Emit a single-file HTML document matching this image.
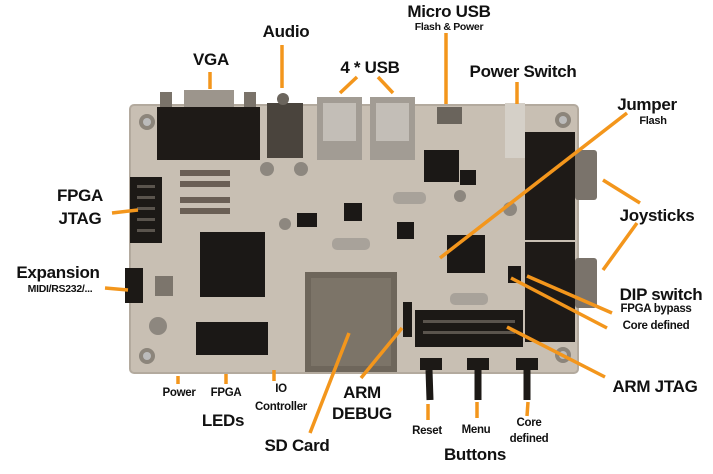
<!DOCTYPE html>
<html><head><meta charset="utf-8"><style>
body{margin:0;width:713px;height:474px;background:#fff;position:relative;overflow:hidden;font-family:"Liberation Sans",sans-serif}
.t{position:absolute;font-weight:bold;color:#111;transform:translateX(-50%);white-space:nowrap;letter-spacing:-0.3px}
.b{font-size:17px}.s{font-size:11.5px}
svg{position:absolute;left:0;top:0}
</style></head><body>
<svg width="713" height="474">
<rect x="130" y="105" width="448" height="268" rx="4" fill="#c8bfb3"/>
<rect x="130" y="105" width="448" height="268" rx="4" fill="none" stroke="#b3aa9e" stroke-width="2"/>
<circle cx="147" cy="122" r="8" fill="#8c857b"/><circle cx="147" cy="122" r="4" fill="#bbb"/>
<circle cx="563" cy="120" r="8" fill="#8c857b"/><circle cx="563" cy="120" r="4" fill="#bbb"/>
<circle cx="147" cy="356" r="8" fill="#8c857b"/><circle cx="147" cy="356" r="4" fill="#bbb"/>
<circle cx="563" cy="355" r="8" fill="#8c857b"/><circle cx="563" cy="355" r="4" fill="#bbb"/>
<rect x="184" y="90" width="50" height="22" fill="#9c958c"/>
<rect x="160" y="92" width="12" height="18" fill="#7a736a"/><rect x="244" y="92" width="12" height="18" fill="#7a736a"/>
<rect x="157" y="107" width="103" height="53" fill="#1e1a17"/>
<rect x="267" y="103" width="36" height="55" fill="#4a443d"/>
<circle cx="283" cy="99" r="6" fill="#6b655d"/>
<rect x="317" y="97" width="45" height="63" fill="#a29c94"/><rect x="370" y="97" width="45" height="63" fill="#a29c94"/>
<rect x="323" y="103" width="33" height="38" fill="#c3beb7"/><rect x="376" y="103" width="33" height="38" fill="#c3beb7"/>
<rect x="437" y="107" width="25" height="17" fill="#6a645c"/>
<rect x="505" y="103" width="20" height="55" fill="#d5d0c8"/>
<rect x="424" y="150" width="35" height="32" fill="#1b1816"/>
<rect x="460" y="170" width="16" height="15" fill="#1b1816"/>
<rect x="344" y="203" width="18" height="18" fill="#1b1816"/>
<rect x="397" y="222" width="17" height="17" fill="#1b1816"/>
<rect x="297" y="213" width="20" height="14" fill="#1b1816"/>
<rect x="393" y="192" width="33" height="12" rx="5" fill="#a8a29a"/>
<rect x="332" y="238" width="38" height="12" rx="5" fill="#a8a29a"/>
<rect x="450" y="293" width="38" height="12" rx="5" fill="#a8a29a"/>
<circle cx="267" cy="169" r="7" fill="#8d877f"/><circle cx="301" cy="169" r="7" fill="#8d877f"/>
<circle cx="285" cy="224" r="6" fill="#8d877f"/><circle cx="510" cy="209" r="7" fill="#8d877f"/>
<circle cx="460" cy="196" r="6" fill="#8d877f"/><circle cx="158" cy="326" r="9" fill="#8d877f"/>
<g fill="#6a5f55"><rect x="180" y="170" width="50" height="6"/><rect x="180" y="181" width="50" height="6"/><rect x="180" y="197" width="50" height="6"/><rect x="180" y="208" width="50" height="6"/></g>
<rect x="130" y="177" width="32" height="66" fill="#1c1916"/>
<g fill="#5a544d"><rect x="137" y="185" width="18" height="3"/><rect x="137" y="196" width="18" height="3"/><rect x="137" y="207" width="18" height="3"/><rect x="137" y="218" width="18" height="3"/><rect x="137" y="229" width="18" height="3"/></g>
<rect x="125" y="268" width="18" height="35" fill="#1c1916"/>
<rect x="155" y="276" width="18" height="20" fill="#7c756c"/>
<rect x="200" y="232" width="65" height="65" fill="#1b1816"/>
<rect x="196" y="322" width="72" height="33" fill="#1b1816"/>
<rect x="305" y="272" width="92" height="100" fill="#6e665b"/>
<rect x="311" y="278" width="80" height="88" fill="#7c7468"/>
<rect x="403" y="302" width="9" height="35" fill="#1c1916"/>
<rect x="447" y="235" width="38" height="38" fill="#1b1816"/>
<rect x="508" y="266" width="13" height="17" fill="#1b1816"/>
<rect x="415" y="310" width="108" height="37" fill="#1c1916"/>
<g fill="#5a544d"><rect x="423" y="320" width="92" height="3"/><rect x="423" y="331" width="92" height="3"/></g>
<rect x="525" y="132" width="50" height="108" fill="#1e1a17"/>
<rect x="525" y="242" width="50" height="100" fill="#1e1a17"/>
<rect x="575" y="150" width="22" height="50" rx="3" fill="#7a736b"/>
<rect x="575" y="258" width="22" height="50" rx="3" fill="#7a736b"/>
<g fill="#1c1916"><rect x="420" y="358" width="22" height="12"/><rect x="467" y="358" width="22" height="12"/><rect x="516" y="358" width="22" height="12"/></g>
<g stroke="#1c1916" stroke-width="7"><line x1="429" y1="370" x2="430" y2="400"/><line x1="478" y1="370" x2="478" y2="400"/><line x1="527" y1="370" x2="527" y2="400"/></g>
<g stroke="#f3961c" stroke-width="3.5" fill="none">
<line x1="210" y1="72" x2="210" y2="89"/>
<line x1="282" y1="45" x2="282" y2="88"/>
<line x1="357" y1="77" x2="340" y2="93"/>
<line x1="378" y1="77" x2="393" y2="93"/>
<line x1="446" y1="33" x2="446" y2="104"/>
<line x1="517" y1="82" x2="517" y2="104"/>
<line x1="627" y1="113" x2="440" y2="258"/>
<line x1="112" y1="213" x2="138" y2="210"/>
<line x1="105" y1="288" x2="128" y2="290"/>
<line x1="640" y1="203" x2="603" y2="180"/>
<line x1="637" y1="223" x2="603" y2="270"/>
<line x1="527" y1="276" x2="612" y2="313"/>
<line x1="511" y1="278" x2="607" y2="328"/>
<line x1="507" y1="327" x2="605" y2="377"/>
<line x1="402" y1="328" x2="361" y2="378"/>
<line x1="349" y1="333" x2="310" y2="433"/>
<line x1="178" y1="376" x2="178" y2="384"/>
<line x1="226" y1="374" x2="226" y2="384"/>
<line x1="274" y1="370" x2="274" y2="381"/>
<line x1="428" y1="404" x2="428" y2="420"/>
<line x1="477" y1="402" x2="477" y2="418"/>
<line x1="528" y1="402" x2="527" y2="416"/>
</g>
</svg>
<div class="t b" style="left:211px;top:50px">VGA</div>
<div class="t b" style="left:286px;top:22px">Audio</div>
<div class="t b" style="left:370px;top:58px">4 * USB</div>
<div class="t b" style="left:449px;top:2px">Micro USB</div>
<div class="t s" style="left:449px;top:21px;font-size:10.5px">Flash &amp; Power</div>
<div class="t b" style="left:523px;top:62px">Power Switch</div>
<div class="t b" style="left:647px;top:95px">Jumper</div>
<div class="t s" style="left:653px;top:115px;font-size:11px">Flash</div>
<div class="t b" style="left:80px;top:186px">FPGA</div>
<div class="t b" style="left:80px;top:209px">JTAG</div>
<div class="t b" style="left:58px;top:263px">Expansion</div>
<div class="t s" style="left:60px;top:283px;font-size:10.5px">MIDI/RS232/...</div>
<div class="t b" style="left:657px;top:206px">Joysticks</div>
<div class="t b" style="left:661px;top:285px">DIP switch</div>
<div class="t s" style="left:656px;top:303px">FPGA bypass</div>
<div class="t s" style="left:656px;top:320px">Core defined</div>
<div class="t b" style="left:655px;top:377px">ARM JTAG</div>
<div class="t b" style="left:362px;top:383px">ARM</div>
<div class="t b" style="left:362px;top:404px">DEBUG</div>
<div class="t b" style="left:297px;top:436px">SD Card</div>
<div class="t s" style="left:179px;top:387px">Power</div>
<div class="t s" style="left:226px;top:387px">FPGA</div>
<div class="t s" style="left:281px;top:383px">IO</div>
<div class="t s" style="left:281px;top:401px">Controller</div>
<div class="t b" style="left:223px;top:411px">LEDs</div>
<div class="t s" style="left:427px;top:425px">Reset</div>
<div class="t s" style="left:476px;top:424px">Menu</div>
<div class="t s" style="left:529px;top:417px">Core</div>
<div class="t s" style="left:529px;top:433px">defined</div>
<div class="t b" style="left:475px;top:445px">Buttons</div>
</body></html>
